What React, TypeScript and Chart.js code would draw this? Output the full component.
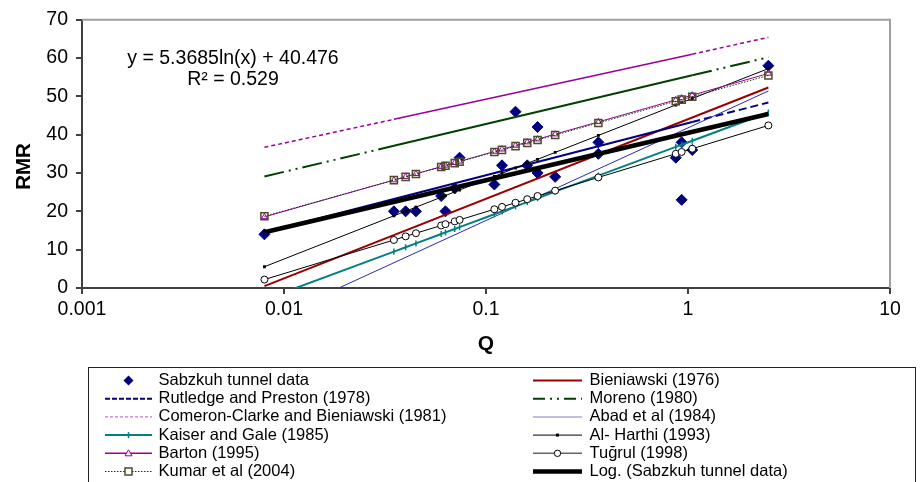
import React, { useEffect, useRef } from 'react';
import { Chart, registerables } from 'chart.js';

Chart.register(...registerables);

const FONT = '"Liberation Sans", Arial, Helvetica, sans-serif';

// ---- data ----
const qValues = [0.008, 0.035, 0.04, 0.045, 0.06, 0.063, 0.07, 0.074, 0.11, 0.12, 0.14, 0.16, 0.18, 0.22, 0.36, 0.87, 0.93, 1.05, 2.5];

const sabzkuhQ = [0.008, 0.035, 0.04, 0.045, 0.06, 0.063, 0.07, 0.074, 0.11, 0.12, 0.14, 0.16, 0.18, 0.18, 0.22, 0.36, 0.36, 0.87, 0.93, 0.93, 1.05, 2.5];
const sabzkuhRMR = [14, 20, 20, 20, 24, 20, 26, 34, 27, 32, 46, 32, 30, 42, 29, 35, 38, 34, 38, 23, 36, 58];

const bieniawskiQ = [0.008, 2.5];
const bieniawskiRMR = [0.5, 52.3];

const edgeQ = [0.008, 0.035, 1.05, 2.5];
const rutledgeRMR = [14.5, 23.2, 43.3, 48.4];
const morenoRMR = [29.1, 37.1, 55.5, 60.2];
const cameronRMR = [36.7, 44.0, 61.0, 65.4];

const abadQ = [0.008, 2.5];
const abadRMR = [-8.9, 51.4];

const kaiserRMR = [-3.04, 9.5, 10.64, 11.64, 14.09, 14.5, 15.4, 15.87, 19.24, 19.98, 21.29, 22.42, 23.42, 25.13, 29.32, 36.82, 37.38, 38.41, 45.79];
const alHarthiRMR = [5.55, 18.83, 20.03, 21.09, 23.68, 24.12, 25.07, 25.57, 29.13, 29.92, 31.31, 32.51, 33.57, 35.37, 39.8, 47.75, 48.35, 49.44, 57.25];
const bartonRMR = [18.55, 28.16, 29.03, 29.8, 31.67, 31.99, 32.68, 33.04, 35.62, 36.19, 37.19, 38.06, 38.83, 40.14, 43.34, 49.09, 49.53, 50.32, 55.97];
const tugrulRMR = [2.2, 12.53, 13.47, 14.29, 16.31, 16.65, 17.38, 17.77, 20.55, 21.16, 22.24, 23.17, 24.0, 25.4, 28.85, 35.02, 35.49, 36.34, 42.41];
const kumarRMR = [18.7, 28.14, 29.0, 29.75, 31.59, 31.91, 32.58, 32.94, 35.47, 36.03, 37.02, 37.87, 38.63, 39.91, 43.06, 48.71, 49.14, 49.91, 55.46];

const logFitQ = [0.008, 2.5];
const logFitRMR = [14.55, 45.4];

const xTickValues = [0.001, 0.01, 0.1, 1, 10];
const xTickLabels = ['0.001', '0.01', '0.1', '1', '10'];
const yTickValues = [0, 10, 20, 30, 40, 50, 60, 70];

const seriesNames = [
  'Sabzkuh tunnel data',
  'Bieniawski (1976)',
  'Rutledge and Preston (1978)',
  'Moreno (1980)',
  'Comeron-Clarke and Bieniawski (1981)',
  'Abad et al (1984)',
  'Kaiser and Gale (1985)',
  'Al- Harthi (1993)',
  'Barton (1995)',
  'Tuğrul (1998)',
  'Kumar et al (2004)',
  'Log. (Sabzkuh tunnel data)',
];

const equationText = 'y = 5.3685ln(x) + 40.476';
const r2Text = 'R² = 0.529';

const NAVY = '#000080';
const DARKRED = '#9a0000';
const GREEN = '#004000';
const PURPLE = '#990099';
const TEAL = '#008080';
const ABAD = '#2a2ab0';
const KUMARSQ = '#4e4a2a';

const pts = (xs: number[], ys: number[]) => xs.map((x, i) => ({ x, y: ys[i] }));

const edgeDash = (dash: number[], last: number) => (ctx: any) =>
  ctx.p0DataIndex === 0 || ctx.p1DataIndex === last ? dash : [];
const lastDash = (dash: number[], last: number) => (ctx: any) =>
  ctx.p1DataIndex === last ? dash : [];

// legend symbol drawing
function drawLegendSymbol(ctx: CanvasRenderingContext2D, idx: number, x0: number, x1: number, y: number) {
  const cx = (x0 + x1) / 2;
  const line = (color: string, width: number, dash: number[]) => {
    ctx.save();
    ctx.strokeStyle = color;
    ctx.lineWidth = width;
    ctx.setLineDash(dash);
    ctx.beginPath();
    ctx.moveTo(x0, y);
    ctx.lineTo(x1, y);
    ctx.stroke();
    ctx.restore();
  };
  ctx.save();
  switch (idx) {
    case 0:
      ctx.fillStyle = NAVY;
      ctx.beginPath();
      ctx.moveTo(cx, y - 5);
      ctx.lineTo(cx + 5, y);
      ctx.lineTo(cx, y + 5);
      ctx.lineTo(cx - 5, y);
      ctx.closePath();
      ctx.fill();
      break;
    case 1:
      line(DARKRED, 2, []);
      break;
    case 2:
      line(NAVY, 2, [5, 2]);
      break;
    case 3:
      line(GREEN, 2, [12, 5, 2, 5, 2, 5]);
      break;
    case 4:
      line('#c050c0', 1, [3, 2]);
      break;
    case 5:
      line('#a8a8e0', 1.5, []);
      break;
    case 6:
      line(TEAL, 2, []);
      ctx.strokeStyle = TEAL;
      ctx.lineWidth = 1.5;
      ctx.beginPath();
      ctx.moveTo(cx, y - 3);
      ctx.lineTo(cx, y + 3);
      ctx.stroke();
      break;
    case 7:
      line('#000', 1, []);
      ctx.fillStyle = '#000';
      ctx.fillRect(cx - 1.5, y - 1.5, 3, 3);
      break;
    case 8:
      line(PURPLE, 1.5, []);
      ctx.fillStyle = '#fff';
      ctx.strokeStyle = PURPLE;
      ctx.lineWidth = 1;
      ctx.beginPath();
      ctx.moveTo(cx, y - 3.5);
      ctx.lineTo(cx + 3.5, y + 2.5);
      ctx.lineTo(cx - 3.5, y + 2.5);
      ctx.closePath();
      ctx.fill();
      ctx.stroke();
      break;
    case 9:
      line('#666', 1.5, []);
      ctx.fillStyle = '#fff';
      ctx.strokeStyle = '#000';
      ctx.lineWidth = 1;
      ctx.beginPath();
      ctx.arc(cx, y, 3.2, 0, Math.PI * 2);
      ctx.fill();
      ctx.stroke();
      break;
    case 10:
      line(GREEN, 1, [1.5, 1.5]);
      ctx.fillStyle = '#fff';
      ctx.strokeStyle = KUMARSQ;
      ctx.lineWidth = 1.5;
      ctx.fillRect(cx - 3.5, y - 3.5, 7, 7);
      ctx.strokeRect(cx - 3.5, y - 3.5, 7, 7);
      break;
    case 11:
      line('#000', 4.5, []);
      break;
  }
  ctx.restore();
}

const decorPlugin = {
  id: 'decor',
  beforeDatasetsDraw(chart: any) {
    const { ctx, chartArea: a } = chart;
    ctx.save();
    ctx.strokeStyle = '#a0a0a0';
    ctx.lineWidth = 2;
    ctx.beginPath();
    ctx.moveTo(a.left, a.top);
    ctx.lineTo(a.right, a.top);
    ctx.lineTo(a.right, a.bottom);
    ctx.stroke();
    ctx.restore();
  },
  afterDraw(chart: any) {
    const { ctx, chartArea: a } = chart;
    ctx.save();
    // equation
    ctx.fillStyle = '#000';
    ctx.font = `19.5px ${FONT}`;
    ctx.textAlign = 'center';
    ctx.textBaseline = 'alphabetic';
    ctx.fillText(equationText, 233, 63.5);
    ctx.fillText(r2Text, 233, 85);

    // axis titles
    ctx.font = `bold 21px ${FONT}`;
    ctx.fillText('Q', (a.left + a.right) / 2, 350);
    ctx.save();
    ctx.translate(30, 166.5);
    ctx.rotate(-Math.PI / 2);
    ctx.font = `bold 20.5px ${FONT}`;
    ctx.fillText('RMR', 0, 0);
    ctx.restore();

    // legend box
    ctx.strokeStyle = '#222';
    ctx.lineWidth = 1;
    ctx.strokeRect(88.5, 367.5, 827, 130);
    ctx.font = `16.5px ${FONT}`;
    ctx.textAlign = 'left';
    ctx.textBaseline = 'middle';
    const colLine = [
      [105, 152],
      [533, 582],
    ];
    const colText = [158.5, 589.5];
    seriesNames.forEach((name, i) => {
      const col = i % 2;
      const row = Math.floor(i / 2);
      const y = 380.5 + row * 18.2;
      drawLegendSymbol(ctx, i, colLine[col][0], colLine[col][1], y);
      ctx.fillStyle = '#000';
      ctx.fillText(name, colText[col], y);
    });
    ctx.restore();
  },
};

export default function App() {
  const ref = useRef<HTMLCanvasElement>(null);

  useEffect(() => {
    const canvas = ref.current;
    if (!canvas) return;
    document.body.style.margin = '0';
    Chart.defaults.font.family = FONT;

    const chart = new Chart(canvas, {
      type: 'line',
      data: {
        datasets: [
          {
            label: seriesNames[0],
            data: pts(sabzkuhQ, sabzkuhRMR),
            showLine: false,
            pointStyle: 'rectRot',
            pointRadius: 5.5,
            pointBackgroundColor: NAVY,
            pointBorderColor: NAVY,
            pointBorderWidth: 1,
            borderColor: NAVY,
            order: 11,
          },
          {
            label: seriesNames[1],
            data: pts(bieniawskiQ, bieniawskiRMR),
            borderColor: DARKRED,
            borderWidth: 2,
            pointRadius: 0,
            order: 10,
          },
          {
            label: seriesNames[2],
            data: pts(edgeQ, rutledgeRMR),
            borderColor: NAVY,
            borderWidth: 2,
            pointRadius: 0,
            segment: { borderDash: lastDash([8, 4], edgeQ.length - 1) },
            order: 9,
          },
          {
            label: seriesNames[3],
            data: pts(edgeQ, morenoRMR),
            borderColor: GREEN,
            borderWidth: 2,
            pointRadius: 0,
            segment: { borderDash: edgeDash([20, 5, 2, 5, 2, 5], edgeQ.length - 1) },
            order: 8,
          },
          {
            label: seriesNames[4],
            data: pts(edgeQ, cameronRMR),
            borderColor: PURPLE,
            borderWidth: 1.5,
            pointRadius: 0,
            segment: { borderDash: edgeDash([4, 3], edgeQ.length - 1) },
            order: 7,
          },
          {
            label: seriesNames[5],
            data: pts(abadQ, abadRMR),
            borderColor: ABAD,
            borderWidth: 1,
            pointRadius: 0,
            order: 6,
          },
          {
            label: seriesNames[6],
            data: pts(qValues, kaiserRMR),
            borderColor: TEAL,
            borderWidth: 2,
            pointStyle: 'line',
            rotation: 90,
            pointRadius: 3,
            pointBorderColor: TEAL,
            pointBorderWidth: 1.5,
            order: 5,
          },
          {
            label: seriesNames[7],
            data: pts(qValues, alHarthiRMR),
            borderColor: '#000',
            borderWidth: 1,
            pointStyle: 'rect',
            pointRadius: 2,
            pointBackgroundColor: '#000',
            pointBorderColor: '#000',
            pointBorderWidth: 0,
            order: 4,
          },
          {
            label: seriesNames[8],
            data: pts(qValues, bartonRMR),
            borderColor: PURPLE,
            borderWidth: 1,
            pointStyle: 'triangle',
            pointRadius: 3.5,
            pointBackgroundColor: '#fff',
            pointBorderColor: PURPLE,
            pointBorderWidth: 1,
            order: 3,
          },
          {
            label: seriesNames[9],
            data: pts(qValues, tugrulRMR),
            borderColor: '#000',
            borderWidth: 1,
            pointStyle: 'circle',
            pointRadius: 3.5,
            pointBackgroundColor: '#fff',
            pointBorderColor: '#000',
            pointBorderWidth: 1,
            order: 2,
          },
          {
            label: seriesNames[10],
            data: pts(qValues, kumarRMR),
            borderColor: GREEN,
            borderWidth: 1,
            borderDash: [1.5, 1.5],
            pointStyle: 'rect',
            pointRadius: 5,
            pointBackgroundColor: 'rgba(0,0,0,0)',
            pointBorderColor: KUMARSQ,
            pointBorderWidth: 1.5,
            order: 1,
          },
          {
            label: seriesNames[11],
            data: pts(logFitQ, logFitRMR),
            borderColor: '#000',
            borderWidth: 4.5,
            pointRadius: 0,
            order: 0,
          },
        ] as any,
      },
      options: {
        responsive: false,
        animation: false,
        events: [],
        layout: { padding: { left: 0, top: 16, right: 31, bottom: 0 } },
        plugins: {
          legend: { display: false },
          title: { display: false },
          tooltip: { enabled: false },
        },
        scales: {
          x: {
            type: 'logarithmic',
            position: 'bottom',
            min: 0.001,
            max: 10,
            afterBuildTicks: (s: any) => {
              s.ticks = xTickValues.map((v) => ({ value: v }));
            },
            afterFit: (s: any) => {
              s.height = 194;
            },
            ticks: {
              autoSkip: false,
              maxRotation: 0,
              minRotation: 0,
              padding: 4,
              color: '#000',
              font: { size: 19.5, family: FONT },
              callback: (_v: any, i: number) => xTickLabels[i],
            },
            grid: {
              drawOnChartArea: false,
              drawTicks: true,
              tickLength: 6,
              tickColor: '#404040',
              tickWidth: 2,
              lineWidth: 2,
            },
            border: { display: true, color: '#404040', width: 2 },
          },
          y: {
            type: 'linear',
            min: 0,
            max: 70,
            afterBuildTicks: (s: any) => {
              s.ticks = yTickValues.map((v) => ({ value: v }));
            },
            afterFit: (s: any) => {
              s.width = 82;
            },
            ticks: {
              padding: 8,
              color: '#000',
              font: { size: 19.5, family: FONT },
              callback: (v: any) => String(v),
            },
            grid: {
              drawOnChartArea: false,
              drawTicks: true,
              tickLength: 6,
              tickColor: '#404040',
              tickWidth: 2,
              lineWidth: 2,
            },
            border: { display: true, color: '#404040', width: 2 },
          },
        },
      } as any,
      plugins: [decorPlugin],
    });

    return () => chart.destroy();
  }, []);

  return (
    <div style={{ position: 'fixed', left: 0, top: 0, width: 921, height: 482, background: '#fff' }}>
      <canvas ref={ref} width={921} height={482} style={{ display: 'block' }} />
    </div>
  );
}
